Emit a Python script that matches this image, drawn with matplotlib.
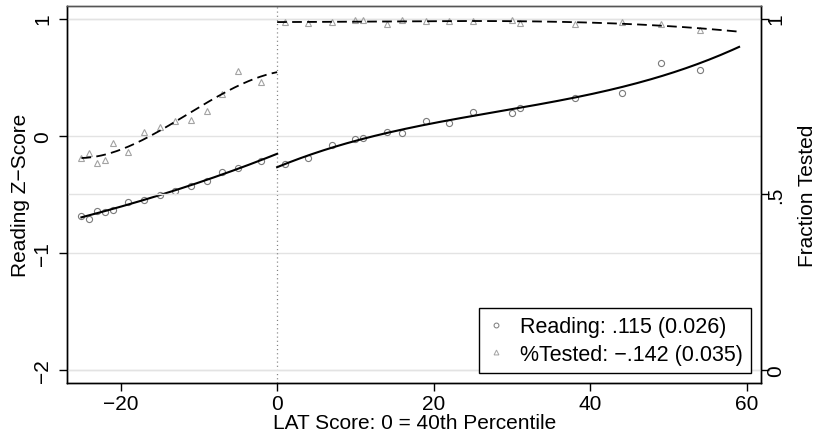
import numpy as np
import matplotlib
matplotlib.use("Agg")
import matplotlib.pyplot as plt
from matplotlib.lines import Line2D

plt.rcParams['font.family'] = ['Liberation Sans', 'DejaVu Sans']
plt.rcParams['lines.scale_dashes'] = False

# ---- data ----
read_x_left = [-25, -24, -23, -22, -21, -19, -17, -15, -13, -11, -9, -7, -5, -2]
read_z_left = [-0.685, -0.708, -0.642, -0.651, -0.631, -0.565, -0.548, -0.509,
               -0.472, -0.432, -0.389, -0.307, -0.279, -0.213]
read_x_right = [1, 4, 7, 10, 11, 14, 16, 19, 22, 25, 30, 31, 38, 44, 49, 54]
read_z_right = [-0.245, -0.193, -0.077, -0.031, -0.020, 0.034, 0.020, 0.122,
                0.105, 0.205, 0.196, 0.233, 0.320, 0.367, 0.622, 0.565]

test_x_left = [-25, -24, -23, -22, -21, -19, -17, -15, -13, -11, -9, -7, -5, -2]
test_f_left = [0.602, 0.618, 0.589, 0.597, 0.646, 0.620, 0.676, 0.690,
               0.708, 0.712, 0.737, 0.786, 0.852, 0.818]
test_x_right = [1, 4, 7, 10, 11, 14, 16, 19, 22, 25, 30, 31, 38, 44, 49, 54]
test_f_right = [0.989, 0.988, 0.991, 0.995, 0.996, 0.985, 0.996, 0.992,
                0.993, 0.992, 0.996, 0.986, 0.985, 0.991, 0.984, 0.968]

fit_range_left = (-25, 0)
fit_range_right = (0, 59)

xticks = [-20, 0, 20, 40, 60]
xticklabels = ["\u221220", "0", "20", "40", "60"]
yticks_left = [1, 0, -1, -2]
yticklabels_left = ["1", "0", "\u22121", "\u22122"]
yticks_right = [0, 0.5, 1]
yticklabels_right = ["0", ".5", "1"]

legend_labels = ["Reading: .115 (0.026)", "%Tested: \u2212.142 (0.035)"]

# ---- figure ----
fig = plt.figure(figsize=(8.16, 4.35), dpi=100)
ax = fig.add_axes([0.0825, 0.1172, 0.8501, 0.8667])
ax2 = ax.twinx()

FS = 15
circle_col = '#7a7a7a'
tri_col = '#a3a3a3'

def cubic_fit(xs, ys, lo, hi):
    c = np.polyfit(xs, ys, 3)
    xx = np.linspace(lo, hi, 200)
    return xx, np.polyval(c, xx)

# reading (left axis)
ax.plot(read_x_left, read_z_left, 'o', ms=4.4, mfc='none', mec=circle_col, mew=0.8, zorder=3)
ax.plot(read_x_right, read_z_right, 'o', ms=4.4, mfc='none', mec=circle_col, mew=0.8, zorder=3)
xx, yy = cubic_fit(read_x_left, read_z_left, *fit_range_left)
ax.plot(xx, yy, color='black', lw=1.5, zorder=4)
xx, yy = cubic_fit(read_x_right, read_z_right, *fit_range_right)
ax.plot(xx, yy, color='black', lw=1.5, zorder=4)

# tested (right axis)
ax2.plot(test_x_left, test_f_left, '^', ms=4.8, mfc='none', mec=tri_col, mew=0.8, zorder=3)
ax2.plot(test_x_right, test_f_right, '^', ms=4.8, mfc='none', mec=tri_col, mew=0.8, zorder=3)
xx, yy = cubic_fit(test_x_left, test_f_left, *fit_range_left)
ax2.plot(xx, yy, color='black', lw=1.3, dashes=(7, 3.8), zorder=4)
xx, yy = cubic_fit(test_x_right, test_f_right, *fit_range_right)
ax2.plot(xx, yy, color='black', lw=1.3, dashes=(7, 3.8), zorder=4)

# vertical dotted line at cutoff
ax.axvline(0, color='#808080', lw=0.9, ls=(0, (0.8, 2.2)), zorder=2)

# axes limits
ax.set_xlim(-26.8, 61.8)
ax.set_ylim(-2.111, 1.107)
ax2.set_ylim(-0.037, 1.0356)

ax.set_yticks(yticks_left)
ax.set_yticklabels(yticklabels_left)
ax2.set_yticks(yticks_right)
ax2.set_yticklabels(yticklabels_right)
ax.grid(axis='y', color='#e3e3e3', lw=1.0, zorder=0)
ax2.grid(axis='y', color='#e3e3e3', lw=1.0, zorder=0)
ax.set_axisbelow(True)
ax2.set_axisbelow(True)

ax.set_xticks(xticks)
ax.set_xticklabels(xticklabels)

for a in (ax, ax2):
    a.tick_params(axis='both', direction='out', length=6, width=1.0, labelsize=FS)
ax.tick_params(axis='x', pad=2)
ax.tick_params(axis='y', labelrotation=90, pad=5)
ax2.tick_params(axis='y', labelrotation=90, pad=-2)
for lbl in ax.get_yticklabels() + ax2.get_yticklabels():
    lbl.set_va('center')

for a in (ax, ax2):
    for s in ('left', 'right', 'bottom'):
        a.spines[s].set_color('black')
        a.spines[s].set_linewidth(1.0)
    a.spines['top'].set_color('#555555')
    a.spines['top'].set_linewidth(1.0)

ax.set_xlabel("LAT Score: 0 = 40th Percentile", fontsize=FS, labelpad=0)
ax.set_ylabel("Reading Z\u2212Score", fontsize=FS, labelpad=2)
ax2.set_ylabel("Fraction Tested", fontsize=FS, rotation=90, labelpad=9)

handles = [Line2D([], [], ls='none', marker='o', ms=3.5, mfc='none', mec=circle_col, mew=0.7),
           Line2D([], [], ls='none', marker='^', ms=3.5, mfc='none', mec=tri_col, mew=0.7)]
leg = ax2.legend(handles, legend_labels, loc='lower right', fontsize=15.5,
                 frameon=True, fancybox=False, framealpha=1, edgecolor='black',
                 borderpad=0.4, handlelength=0.8, handletextpad=0.7, labelspacing=0.3,
                 borderaxespad=0.45)
leg.get_frame().set_linewidth(1.0)

fig.savefig("out.png", dpi=100)
